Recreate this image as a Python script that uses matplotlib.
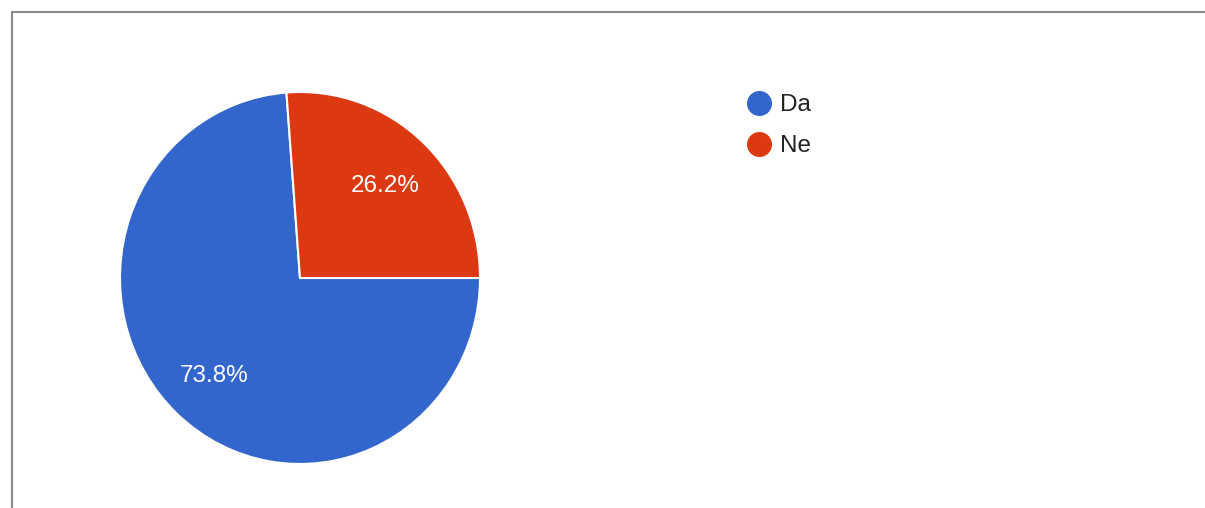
import matplotlib.pyplot as plt
from matplotlib.lines import Line2D
from matplotlib.transforms import offset_copy

# Survey answers
labels = ['Da', 'Ne']
shares = [73.8, 26.2]
colors = ['#3366CC', '#DC3912']

plt.rcParams['font.family'] = ['Liberation Sans', 'DejaVu Sans']

W, H = 1205, 508
fig = plt.figure(figsize=(W / 100, H / 100), dpi=100)

left, right, top, bottom = 120, 480, 92, 464
ax = fig.add_axes([left / W, (H - bottom) / H, (right - left) / W, (bottom - top) / H])
wedges, texts, autotexts = ax.pie(
    shares, colors=colors, startangle=0, counterclock=False,
    autopct='%.1f%%', pctdistance=0.7,
    wedgeprops=dict(edgecolor='white', linewidth=1.5),
    textprops=dict(color='white', fontsize=17.5),
)
ax.set_aspect('auto')
ax.set_xlim(-1, 1)
ax.set_ylim(-1, 1)

# nudge the percent labels a few pixels down
for t in autotexts:
    t.set_transform(offset_copy(ax.transData, fig=fig, x=0, y=-3, units='dots'))

# Legend drawn by hand to match the layout
for i, (lab, col) in enumerate(zip(labels, colors)):
    y = (H - (103 + 41 * i)) / H
    fig.add_artist(Line2D([759 / W], [y], marker='o', markersize=17,
                          color=col, transform=fig.transFigure))
    fig.text(780 / W, y - 2 / H, lab, fontsize=17.5, color='#222222',
             va='center', ha='left')

# Frame lines on the top and left edges
fig.add_artist(Line2D([12 / W, 12 / W], [0, (H - 12) / H], color='#8a8a8a',
                      linewidth=1.5, transform=fig.transFigure))
fig.add_artist(Line2D([12 / W, 1], [(H - 12) / H, (H - 12) / H], color='#8a8a8a',
                      linewidth=1.5, transform=fig.transFigure))

fig.savefig('out.png', dpi=100)
